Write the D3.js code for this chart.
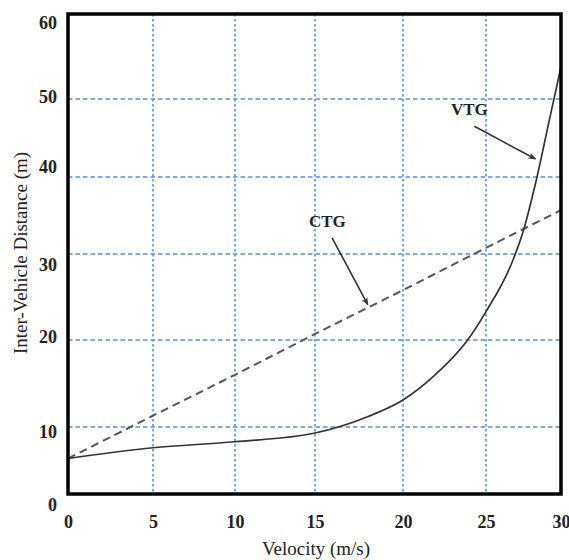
<!DOCTYPE html>
<html>
<head>
<meta charset="utf-8">
<script src="https://cdn.jsdelivr.net/npm/d3@7"></script>
<style>
  html, body { margin: 0; padding: 0; background: #fff; }
  svg { display: block; }
  text { font-family: "Liberation Serif", "Times New Roman", serif; fill: #222; }
</style>
</head>
<body>
<svg id="chart" width="569" height="560"></svg>
<script>
// ---- data ----
const xTicks = [0, 5, 10, 15, 20, 25, 30];
const yTicks = [0, 10, 20, 30, 40, 50, 60];

// CTG (constant time gap) – dashed line
const ctgVelocity = [0, 5, 10, 15, 20, 25, 30];
const ctgDistance = [5.3, 11.3, 16.0, 20.7, 25.8, 30.8, 35.7];

// VTG (variable time gap) – solid curve
const vtgVelocity = [0, 5, 10, 15, 17.95, 20, 21.8, 23.86, 25, 26.8, 27.47, 28.4, 29.2, 30];
const vtgDistance = [5.3, 6.9, 7.8, 9.1, 11.15, 13.1, 15.75, 19.9, 23.3, 29.3, 32.9, 40, 47.1, 53.8];

// annotations: label position and arrow (data units)
const annLabels = ["VTG", "CTG"];
const annText   = [[24.0, 48.6], [15.7, 34.2]];
const annFrom   = [[24.3, 46.5], [15.97, 32.1]];
const annTo     = [[28.3, 42.3], [18.0, 24.1]];

const xTitle = "Velocity (m/s)";
const yTitle = "Inter-Vehicle Distance (m)";

// ---- layout ----
const svg = d3.select("#chart");
const pL = 68, pR = 561, pT = 14, pB = 494;

// the printed figure has slightly uneven grid spacing; follow it piecewise
const x = d3.scaleLinear().domain(xTicks).range([pL, 153, 235, 315, 403, 486, pR]);
const y = d3.scaleLinear().domain(yTicks).range([pB, 427, 340, 254, 177, 99, pT]);
// tick label positions as printed
const yLab = d3.scaleLinear().domain(yTicks).range([505, 432, 337, 265, 167, 97, 23]);

const gridColor = "#5b8fd6";

// grid
svg.append("g").selectAll("line")
  .data(xTicks.filter(d => d > 0 && d < 30))
  .join("line")
  .attr("x1", d => x(d)).attr("x2", d => x(d))
  .attr("y1", pT).attr("y2", pB)
  .attr("stroke", gridColor).attr("stroke-width", 1.6)
  .attr("stroke-dasharray", "2.5,2.5");

svg.append("g").selectAll("line")
  .data(yTicks.filter(d => d > 0 && d < 60))
  .join("line")
  .attr("x1", pL).attr("x2", pR)
  .attr("y1", d => y(d)).attr("y2", d => y(d))
  .attr("stroke", gridColor).attr("stroke-width", 1.6)
  .attr("stroke-dasharray", "4.5,3");

// axes (labels only, frame drawn separately)
const xAxis = svg.append("g")
  .attr("transform", `translate(0,${pB})`)
  .call(d3.axisBottom(x).tickValues(xTicks).tickSize(0).tickPadding(21));
xAxis.select(".domain").remove();
xAxis.selectAll("text")
  .style("font-size", "18px").style("font-weight", "bold")
  .style("font-family", "Liberation Serif, serif").attr("fill", "#222");

const yAxis = svg.append("g")
  .attr("transform", `translate(${pL},0)`)
  .call(d3.axisLeft(y).tickValues(yTicks).tickSize(0).tickPadding(11));
yAxis.select(".domain").remove();
yAxis.selectAll(".tick text")
  .attr("y", d => yLab(d) - y(d))
  .style("font-size", "18px").style("font-weight", "bold")
  .style("font-family", "Liberation Serif, serif").attr("fill", "#222");

// curves
const ctgData = ctgVelocity.map((v, i) => [v, ctgDistance[i]]);
const vtgData = vtgVelocity.map((v, i) => [v, vtgDistance[i]]);

svg.append("path")
  .datum(ctgData)
  .attr("d", d3.line().x(d => x(d[0])).y(d => y(d[1])))
  .attr("fill", "none").attr("stroke", "#555").attr("stroke-width", 2)
  .attr("stroke-dasharray", "8,5");

svg.append("path")
  .datum(vtgData)
  .attr("d", d3.line().curve(d3.curveMonotoneX).x(d => x(d[0])).y(d => y(d[1])))
  .attr("fill", "none").attr("stroke", "#333").attr("stroke-width", 1.7);

// frame
svg.append("rect")
  .attr("x", pL).attr("y", pT)
  .attr("width", pR - pL).attr("height", pB - pT)
  .attr("fill", "none").attr("stroke", "#000").attr("stroke-width", 3.5);

// annotations
svg.append("defs").append("marker")
  .attr("id", "arrow").attr("viewBox", "0 0 12 10")
  .attr("refX", 11).attr("refY", 5)
  .attr("markerWidth", 8).attr("markerHeight", 7)
  .attr("markerUnits", "userSpaceOnUse")
  .attr("orient", "auto")
  .append("path").attr("d", "M0,0 L12,5 L0,10 L4,5 Z").attr("fill", "#333");

annLabels.forEach((lab, i) => {
  svg.append("line")
    .attr("x1", x(annFrom[i][0])).attr("y1", y(annFrom[i][1]))
    .attr("x2", x(annTo[i][0])).attr("y2", y(annTo[i][1]))
    .attr("stroke", "#333").attr("stroke-width", 1.6)
    .attr("marker-end", "url(#arrow)");
  svg.append("text")
    .attr("x", x(annText[i][0])).attr("y", y(annText[i][1]))
    .attr("text-anchor", "middle").attr("dominant-baseline", "central")
    .style("font-size", "17px").style("font-weight", "bold")
    .text(lab);
});

// titles
svg.append("text")
  .attr("x", 316).attr("y", 548)
  .attr("text-anchor", "middle").attr("dominant-baseline", "central")
  .style("font-size", "19px")
  .text(xTitle);

svg.append("text")
  .attr("transform", `translate(20,253) rotate(-90)`)
  .attr("text-anchor", "middle").attr("dominant-baseline", "central")
  .style("font-size", "19px")
  .text(yTitle);
</script>
</body>
</html>
